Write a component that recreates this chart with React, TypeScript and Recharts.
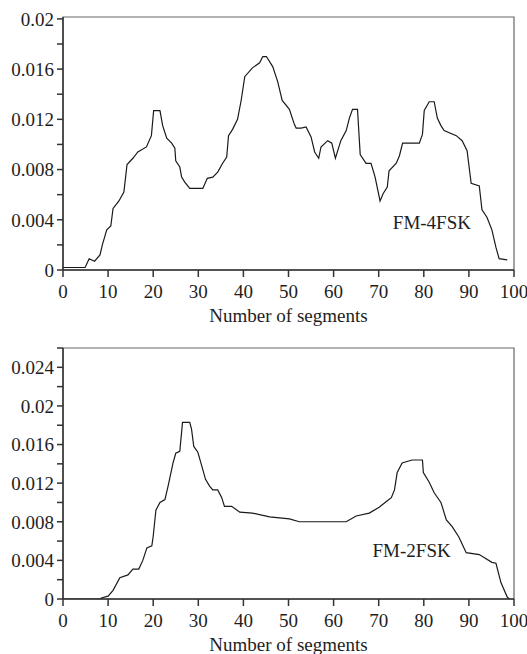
import React from 'react';
import { LineChart, Line, XAxis, YAxis, ReferenceArea, ReferenceDot } from 'recharts';

// FM-4FSK curve (segment index, value)
const fsk4X = [0, 4.9, 5.8, 7, 8.2, 8.8, 9.7, 10.6, 11.1, 12.4, 13.5, 14.2, 15.5, 16.6, 18.5, 19.6, 20.1, 21.5, 22.1, 23, 24.1, 24.8, 25, 25.9, 26.3, 27, 28.1, 31, 32, 33.2, 34.3, 35.4, 36.3, 36.7, 37.6, 38.7, 39.5, 40.3, 42, 43.6, 44.3, 45.1, 46.5, 47.6, 48.6, 50.2, 51.3, 51.7, 52.8, 53.9, 55, 55.8, 56.7, 57.2, 58.7, 59.6, 60.4, 61.6, 62.8, 63.5, 64.2, 65.3, 65.9, 67.2, 68.3, 69.2, 70.3, 71, 71.9, 72.3, 73.9, 74.6, 75.3, 79, 79.7, 80.1, 81.2, 82.3, 83, 83.8, 84.5, 87.2, 88.5, 89.6, 90.5, 92.3, 92.9, 94, 95.1, 96, 96.7, 98.5];
const fsk4Y = [0.0002, 0.0002, 0.0009, 0.0007, 0.0012, 0.0021, 0.0032, 0.0035, 0.0049, 0.0055, 0.0062, 0.0084, 0.0089, 0.0094, 0.0098, 0.0107, 0.0127, 0.0127, 0.0115, 0.0105, 0.0101, 0.0097, 0.0087, 0.0082, 0.0074, 0.007, 0.0065, 0.0065, 0.0073, 0.0074, 0.0078, 0.0085, 0.009, 0.0107, 0.0112, 0.012, 0.0135, 0.0154, 0.0161, 0.0165, 0.017, 0.017, 0.0162, 0.015, 0.0135, 0.0128, 0.0116, 0.0113, 0.0113, 0.0114, 0.0106, 0.0094, 0.0089, 0.0098, 0.0103, 0.0101, 0.0089, 0.0103, 0.0111, 0.0121, 0.0128, 0.0128, 0.0092, 0.0085, 0.0085, 0.0074, 0.0055, 0.0061, 0.0066, 0.0079, 0.0085, 0.0091, 0.0101, 0.0101, 0.0108, 0.0127, 0.0134, 0.0134, 0.0121, 0.0115, 0.0111, 0.0107, 0.0103, 0.0095, 0.0069, 0.0067, 0.0048, 0.0042, 0.0032, 0.0018, 0.0009, 0.0008];

// FM-2FSK curve
const fsk2X = [0, 8.2, 8.5, 10, 11.1, 12.6, 14.4, 15.5, 16.8, 17.7, 18.6, 19.7, 20, 20.6, 21.5, 22.6, 23.3, 24.4, 25, 25.9, 26.5, 28.1, 28.5, 29, 29.9, 30.7, 31.6, 32.5, 33.2, 34.3, 35.2, 35.8, 37.4, 39.2, 42, 45.8, 50.2, 52.4, 62.8, 65, 67.9, 70.1, 71.7, 72.8, 73.5, 74.1, 75.2, 77.4, 79.7, 79.9, 81.2, 82.3, 83.8, 85, 86.3, 87.8, 89.4, 92.3, 95.1, 96, 97.1, 98.5, 99];
const fsk2Y = [0, 0, 0.0001, 0.0003, 0.0009, 0.0022, 0.0025, 0.0031, 0.0031, 0.004, 0.0053, 0.0055, 0.0065, 0.0092, 0.01, 0.0103, 0.0117, 0.0141, 0.0151, 0.0153, 0.0183, 0.0183, 0.0176, 0.0158, 0.0152, 0.0139, 0.0124, 0.0117, 0.0113, 0.0113, 0.0105, 0.0096, 0.0096, 0.009, 0.0089, 0.0085, 0.0083, 0.008, 0.008, 0.0086, 0.0089, 0.0095, 0.0101, 0.0105, 0.0113, 0.0131, 0.0141, 0.0144, 0.0144, 0.0131, 0.0121, 0.011, 0.01, 0.0082, 0.0075, 0.0064, 0.0048, 0.0046, 0.0038, 0.0037, 0.0017, 0.0002, 0];

const xTicks = [0, 10, 20, 30, 40, 50, 60, 70, 80, 90, 100];
const yTicksTop = [0, 0.002, 0.004, 0.006, 0.008, 0.01, 0.012, 0.014, 0.016, 0.018, 0.02];
const yLabelsTop = ['0', '', '0.004', '', '0.008', '', '0.012', '', '0.016', '', '0.02'];
const yTicksBottom = [0, 0.002, 0.004, 0.006, 0.008, 0.01, 0.012, 0.014, 0.016, 0.018, 0.02, 0.022, 0.024, 0.026];
const yLabelsBottom = ['0', '', '0.004', '', '0.008', '', '0.012', '', '0.016', '', '0.02', '', '0.024', ''];

const xTitle = 'Number of segments';
const label4 = 'FM-4FSK';
const label2 = 'FM-2FSK';

const data4 = fsk4X.map((x, i) => ({ x, y: fsk4Y[i] }));
const data2 = fsk2X.map((x, i) => ({ x, y: fsk2Y[i] }));

const FONT = 'Liberation Serif, Times New Roman, serif';
const TXT = '#1e1e1e';
const tickStyle = { fontSize: 19, fill: TXT, fontFamily: FONT };

function Panel(props: {
  data: { x: number; y: number }[];
  height: number;
  top: number;
  marginTop: number;
  xAxisHeight: number;
  yMax: number;
  yTicks: number[];
  yLabels: string[];
  labelOffset: number;
  tag: string;
  tagX: number;
  tagY: number;
}) {
  const { data, height, top, marginTop, xAxisHeight, yMax, yTicks, yLabels, labelOffset, tag, tagX, tagY } = props;
  return (
    <div style={{ position: 'absolute', left: 0, top }}>
      <LineChart
        width={527}
        height={height}
        data={data}
        margin={{ top: marginTop, right: 13, left: 0, bottom: 0 }}
        style={{ fontFamily: FONT }}
      >
        <XAxis
          type="number"
          dataKey="x"
          domain={[0, 100]}
          ticks={xTicks}
          interval={0}
          height={xAxisHeight}
          tickSize={7}
          tickMargin={8}
          tick={tickStyle}
          stroke="#333"
          strokeWidth={1.5}
          label={{ value: xTitle, position: 'insideBottom', offset: labelOffset, style: { fontSize: 19, fill: TXT, fontFamily: FONT } }}
        />
        <YAxis
          type="number"
          domain={[0, yMax]}
          ticks={yTicks}
          interval={0}
          width={63}
          tickSize={6}
          tickMargin={3}
          tick={tickStyle}
          tickFormatter={(_v: number, i: number) => yLabels[i]}
          stroke="#333"
          strokeWidth={1.5}
          allowDataOverflow
        />
        <ReferenceArea x1={0} x2={100} y1={0} y2={yMax} fill="none" stroke="#666" strokeWidth={1.2} />
        <Line
          type="linear"
          dataKey="y"
          stroke="#1a1a1a"
          strokeWidth={1.2}
          dot={false}
          isAnimationActive={false}
        />
        <ReferenceDot
          x={tagX}
          y={tagY}
          r={0}
          fill="none"
          stroke="none"
          label={{ value: tag, position: 'center', style: { fontSize: 19, fill: TXT, fontFamily: FONT } }}
        />
      </LineChart>
    </div>
  );
}

export default function App() {
  return (
    <div style={{ position: 'absolute', left: 0, top: 0, width: 527, height: 654, background: '#fff' }}>
      <Panel
        data={data4}
        height={330}
        top={0}
        marginTop={17}
        xAxisHeight={60}
        yMax={0.02015}
        yTicks={yTicksTop}
        yLabels={yLabelsTop}
        labelOffset={8}
        tag={label4}
        tagX={81.8}
        tagY={0.0038}
      />
      <Panel
        data={data2}
        height={324}
        top={330}
        marginTop={18}
        xAxisHeight={55}
        yMax={0.026}
        yTicks={yTicksBottom}
        yLabels={yLabelsBottom}
        labelOffset={3}
        tag={label2}
        tagX={77.3}
        tagY={0.005}
      />
    </div>
  );
}
